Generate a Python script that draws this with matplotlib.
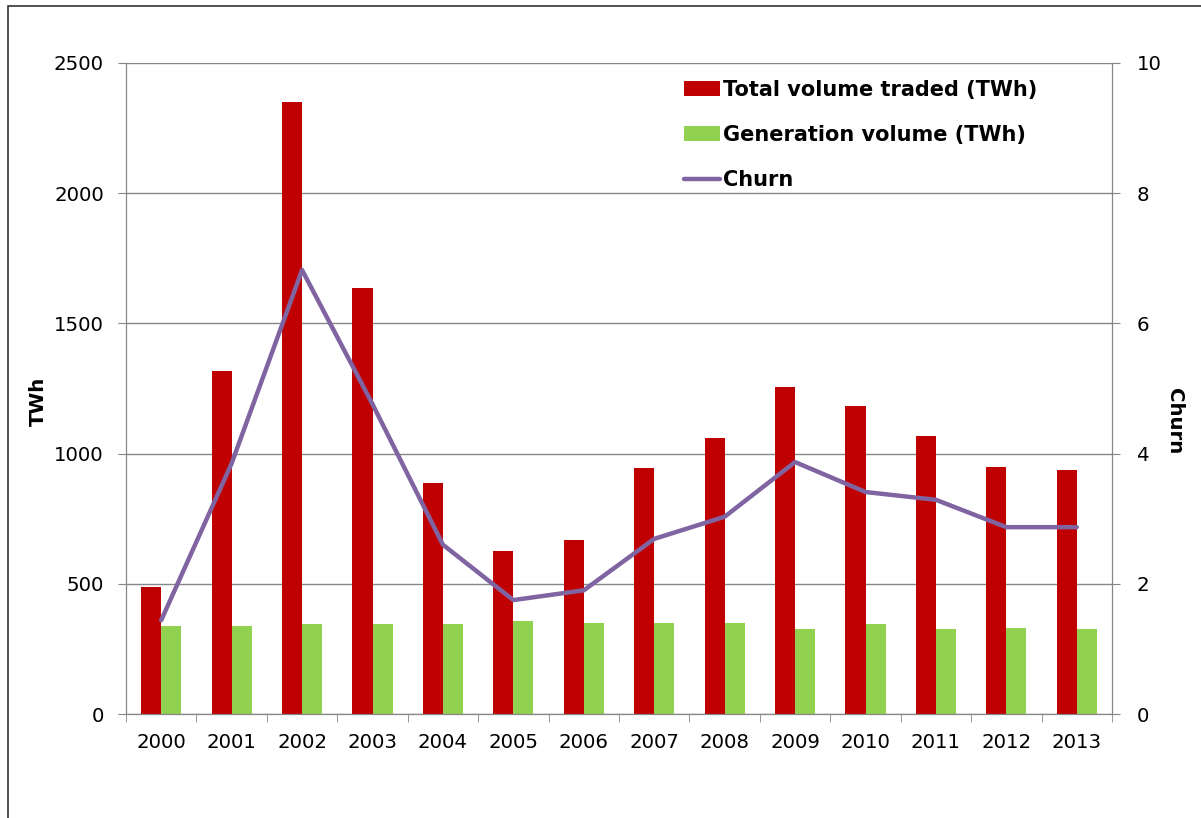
import numpy as np
import matplotlib
matplotlib.use('Agg')
import matplotlib.pyplot as plt
from matplotlib.patches import Rectangle

# data
years = ['2000', '2001', '2002', '2003', '2004', '2005', '2006',
         '2007', '2008', '2009', '2010', '2011', '2012', '2013']
total_traded = [488, 1317, 2350, 1636, 887, 626, 668, 945, 1060, 1256, 1183, 1068, 948, 937]
generation = [338, 338, 345, 345, 345, 357, 349, 349, 349, 326, 345, 326, 330, 326]
churn = [1.44, 3.85, 6.82, 4.76, 2.6, 1.75, 1.9, 2.69, 3.03, 3.87, 3.41, 3.29, 2.87, 2.87]

red = '#C00000'
green = '#92D050'
purple = '#8064A2'
grid_c = '#868686'
fs = 14.2

plt.rcParams['font.family'] = ['DejaVu Sans']

fig = plt.figure(figsize=(12.01, 8.18), dpi=100)
ax = fig.add_axes([126 / 1201, 1 - 714 / 818, 986 / 1201, 651 / 818])

x = np.arange(len(years))
w = 0.285
ax.bar(x - w / 2, total_traded, w, color=red, label='Total volume traded (TWh)', zorder=2)
ax.bar(x + w / 2, generation, w, color=green, label='Generation volume (TWh)', zorder=2)

ax.set_xlim(-0.5, len(years) - 0.5)
ax.set_ylim(0, 2500)
ax.set_yticks(range(0, 2501, 500))
ax.yaxis.grid(True, color=grid_c, linewidth=1)
ax.set_axisbelow(True)
ax.set_xticks(x)
ax.set_xticklabels(years, fontsize=fs)
ax.set_xticks(np.arange(-0.5, len(years), 1), minor=True)
ax.tick_params(axis='x', which='major', length=0, pad=14)
ax.tick_params(axis='x', which='minor', length=6, color=grid_c, direction='out')
ax.tick_params(axis='y', labelsize=fs, length=6, color=grid_c, pad=10)
ax.set_ylabel('TWh', fontsize=fs, fontweight='bold')
ax.yaxis.set_label_coords(-0.079, 0.48)

ax2 = ax.twinx()
ax2.plot(x, churn, color=purple, linewidth=3.2, label='Churn', zorder=3,
         solid_capstyle='round')
ax2.set_ylim(0, 10)
ax2.set_yticks(range(0, 11, 2))
ax2.tick_params(axis='y', labelsize=fs, length=6, color=grid_c, pad=12)
ax2.set_ylabel('Churn', fontsize=fs, fontweight='bold', rotation=270, va='center')
ax2.yaxis.set_label_coords(1.063, 0.45)

for a in (ax, ax2):
    a.spines['top'].set_visible(False)
    for s in ('left', 'right', 'bottom'):
        a.spines[s].set_color(grid_c)

h1, l1 = ax.get_legend_handles_labels()
h2, l2 = ax2.get_legend_handles_labels()
ax.legend(h1 + h2, l1 + l2, loc='upper left', bbox_to_anchor=(684 / 1201, 1 - 80 / 818),
          bbox_transform=fig.transFigure, frameon=False, prop={'weight': 'bold', 'size': 15},
          handlelength=1.75, handleheight=0.7, handletextpad=0.1, labelspacing=1.2,
          borderpad=0, borderaxespad=0)

# outer border
fig.patches.append(Rectangle((8 / 1201, -0.05), 1.2, 1 - 6 / 818 + 0.05, transform=fig.transFigure,
                             fill=False, edgecolor='#333333', linewidth=1.2))

fig.savefig('out.png', dpi=100)
